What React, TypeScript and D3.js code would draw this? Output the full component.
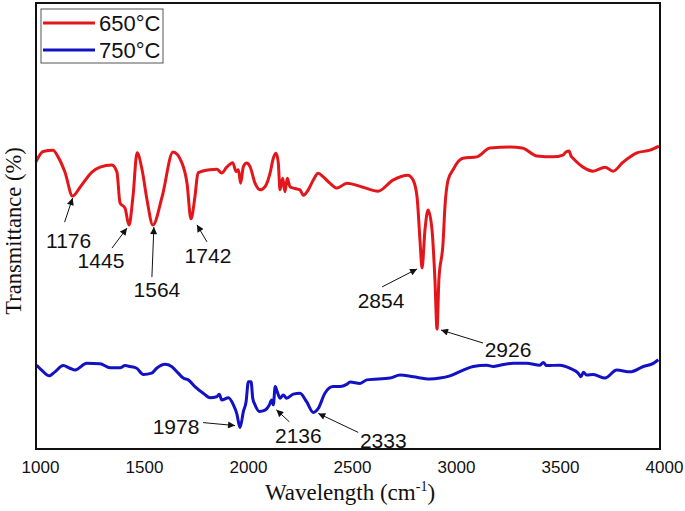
import * as d3 from 'd3'

// wavenumber (cm-1) / transmittance (arb. %)
const wave650 = [1000, 1034, 1082, 1106, 1139, 1176, 1212, 1269, 1308, 1365, 1389, 1404, 1428, 1447, 1466, 1486, 1510, 1534, 1562, 1606, 1659, 1702, 1726, 1745, 1764, 1779, 1837, 1869, 1893, 1917, 1946, 1962, 1973, 1984, 1997, 2013, 2029, 2053, 2077, 2101, 2125, 2141, 2154, 2165, 2173, 2186, 2197, 2208, 2221, 2245, 2269, 2285, 2309, 2333, 2357, 2381, 2413, 2447, 2495, 2572, 2644, 2716, 2788, 2813, 2832, 2846, 2856, 2870, 2885, 2904, 2918, 2928, 2937, 2957, 2966, 2981, 3005, 3024, 3053, 3120, 3183, 3279, 3337, 3409, 3486, 3534, 3548, 3563, 3572, 3582, 3630, 3678, 3736, 3774, 3822, 3889, 3952, 3995]
const trans650 = [64.4, 66.7, 67.0, 65.5, 62.1, 56.7, 58.7, 62.1, 63.2, 63.7, 62.1, 55.2, 54.0, 50.2, 56.5, 66.4, 62.6, 55.8, 50.2, 56.5, 66.6, 64.1, 59.6, 51.6, 56.5, 61.9, 62.6, 62.7, 61.9, 63.2, 64.2, 62.2, 62.6, 59.6, 63.3, 64.1, 63.3, 59.6, 58.1, 58.8, 61.8, 65.2, 66.3, 64.1, 58.1, 60.7, 57.7, 60.7, 58.8, 58.4, 58.1, 56.9, 58.1, 60.3, 61.8, 61.0, 59.6, 58.5, 59.6, 58.7, 57.8, 60.3, 61.4, 60.3, 56.5, 46.9, 40.6, 49.1, 53.6, 49.1, 37.9, 26.9, 37.9, 46.2, 54.3, 60.3, 62.6, 64.1, 65.2, 65.5, 67.5, 67.7, 67.5, 65.7, 65.5, 65.9, 66.6, 66.8, 65.7, 65.2, 63.2, 62.3, 63.2, 62.3, 64.3, 66.4, 67.0, 67.9]

const wave750 = [1003, 1027, 1064, 1091, 1131, 1163, 1188, 1244, 1308, 1356, 1404, 1428, 1452, 1484, 1516, 1556, 1580, 1620, 1652, 1684, 1708, 1732, 1764, 1804, 1837, 1869, 1881, 1893, 1925, 1949, 1965, 1981, 1997, 2010, 2021, 2034, 2042, 2053, 2074, 2101, 2122, 2133, 2141, 2150, 2160, 2173, 2189, 2205, 2237, 2269, 2301, 2333, 2357, 2389, 2429, 2462, 2494, 2510, 2558, 2590, 2702, 2750, 2814, 2894, 2942, 2990, 3054, 3102, 3167, 3199, 3231, 3295, 3359, 3423, 3439, 3455, 3519, 3567, 3607, 3620, 3632, 3647, 3679, 3736, 3792, 3856, 3920, 3968, 3992]
const trans750 = [18.8, 17.7, 16.4, 17.3, 18.7, 18.1, 17.7, 19.2, 19.1, 18.2, 18.2, 18.7, 18.5, 18.1, 16.7, 17.0, 18.1, 19.0, 18.5, 17.0, 15.9, 15.5, 14.0, 12.5, 11.5, 11.7, 12.3, 11.0, 11.5, 9.9, 8.0, 4.8, 8.4, 10.6, 15.1, 15.1, 11.4, 9.9, 8.4, 8.7, 9.9, 11.0, 9.9, 14.0, 12.8, 11.4, 12.1, 11.4, 12.3, 12.5, 10.6, 8.2, 9.1, 12.5, 14.0, 14.0, 14.5, 15.0, 14.7, 15.5, 15.9, 16.6, 16.2, 15.7, 15.9, 16.4, 17.7, 18.5, 18.8, 18.5, 18.8, 19.2, 19.2, 18.8, 19.4, 18.7, 18.8, 18.1, 17.0, 16.2, 17.2, 16.6, 16.7, 15.9, 17.7, 17.3, 18.5, 19.2, 20.0]

const xTicks = [1000, 1500, 2000, 2500, 3000, 3500, 4000]
const seriesNames = ['650°C', '750°C']
const seriesColors = ['#e3161b', '#1212c4']

// peak labels: text, series index
const peakLabels = ['1176', '1445', '1564', '1742', '2854', '2926', '1978', '2136', '2333']
const peakSeries = [0, 0, 0, 0, 0, 0, 1, 1, 1]
// placement relative to the marked point: [tipDx, tipDy, tailDx, tailDy, textDx, textDy]
const peakLayout = [
  [0, 2, -8, 26, -4, 52],
  [-2, 3, -17, 23, -28, 43],
  [1, 2, -1, 52, 4, 72],
  [6, 6, 16, 23, 17, 44],
  [-5, 1, -40, 19, -41, 40],
  [4, 1, 46, 14, 71, 28],
  [-5, -2, -37, -5, -64, 6],
  [7, 5, 20, 17, 29, 38],
  [5, 1, 45, 20, 70, 36],
]

const W = 685
const H = 511
const L = 36, R = 660, T = 3, B = 449

export default function App() {
  const x = d3.scaleLinear().domain([1000, 4000]).range([L, R])
  const y = d3.scaleLinear().domain([0, 100]).range([B, T])

  const series = [
    wave650.map((w, i) => [w, trans650[i]] as [number, number]),
    wave750.map((w, i) => [w, trans750[i]] as [number, number]),
  ]
  const line = d3.line<[number, number]>().x((d) => x(d[0])).y((d) => y(d[1])).curve(d3.curveMonotoneX)

  // local minimum near the labelled wavenumber
  const peakPoint = (si: number, w: number) => {
    const near = series[si].filter((d) => Math.abs(d[0] - w) <= 20)
    const m = near.reduce((a, b) => (b[1] < a[1] ? b : a), near[0])
    return [x(m[0]), y(m[1])]
  }

  return (
    <svg width={W} height={H} style={{ position: 'absolute', left: 0, top: 0, background: '#fff' }}>
      <defs>
        <marker id="ah" viewBox="0 0 10 10" refX="10" refY="5" markerWidth="9" markerHeight="7" markerUnits="userSpaceOnUse" orient="auto">
          <path d="M0,0 L10,5 L0,10 z" fill="#111" />
        </marker>
      </defs>

      {series.map((s, i) => (
        <path key={i} d={line(s) ?? ''} fill="none" stroke={seriesColors[i]} strokeWidth={3} strokeLinejoin="round" />
      ))}

      {peakLabels.map((lab, i) => {
        const [px, py] = peakPoint(peakSeries[i], +lab)
        const [tdx, tdy, sdx, sdy, txd, tyd] = peakLayout[i]
        return (
          <g key={lab}>
            <line x1={px + sdx} y1={py + sdy} x2={px + tdx} y2={py + tdy} stroke="#111" strokeWidth={1} markerEnd="url(#ah)" />
            <text x={px + txd} y={py + tyd} textAnchor="middle" fontFamily="Liberation Sans, Arial, sans-serif" fontSize={21} fill="#111">{lab}</text>
          </g>
        )
      })}

      <rect x={L} y={T} width={R - L} height={B - T} fill="none" stroke="#111" strokeWidth={2} />

      {xTicks.map((t) => (
        <text key={t} x={x(t) + 4.5} y={473} textAnchor="middle" fontFamily="Liberation Sans, Arial, sans-serif" fontSize={17} fill="#111">{t}</text>
      ))}

      <text x={350} y={500} textAnchor="middle" fontFamily="Liberation Serif, Times New Roman, serif" fontSize={23} fill="#111">
        Wavelength (cm<tspan dy={-9} fontSize={14}>-1</tspan><tspan dy={9}>)</tspan>
      </text>
      <text transform={`translate(21,231) rotate(-90)`} textAnchor="middle" fontFamily="Liberation Serif, Times New Roman, serif" fontSize={22.5} fill="#111">
        Transmittance (%)
      </text>

      <rect x={41} y={9} width={122} height={54} fill="#fff" stroke="#555" strokeWidth={1} />
      {seriesNames.map((n, i) => (
        <g key={n}>
          <line x1={43} x2={95} y1={23 + i * 27} y2={23 + i * 27} stroke={seriesColors[i]} strokeWidth={3} />
          <text x={99} y={31 + i * 27} fontFamily="Liberation Sans, Arial, sans-serif" fontSize={22} fill="#111">{n}</text>
        </g>
      ))}
    </svg>
  )
}
